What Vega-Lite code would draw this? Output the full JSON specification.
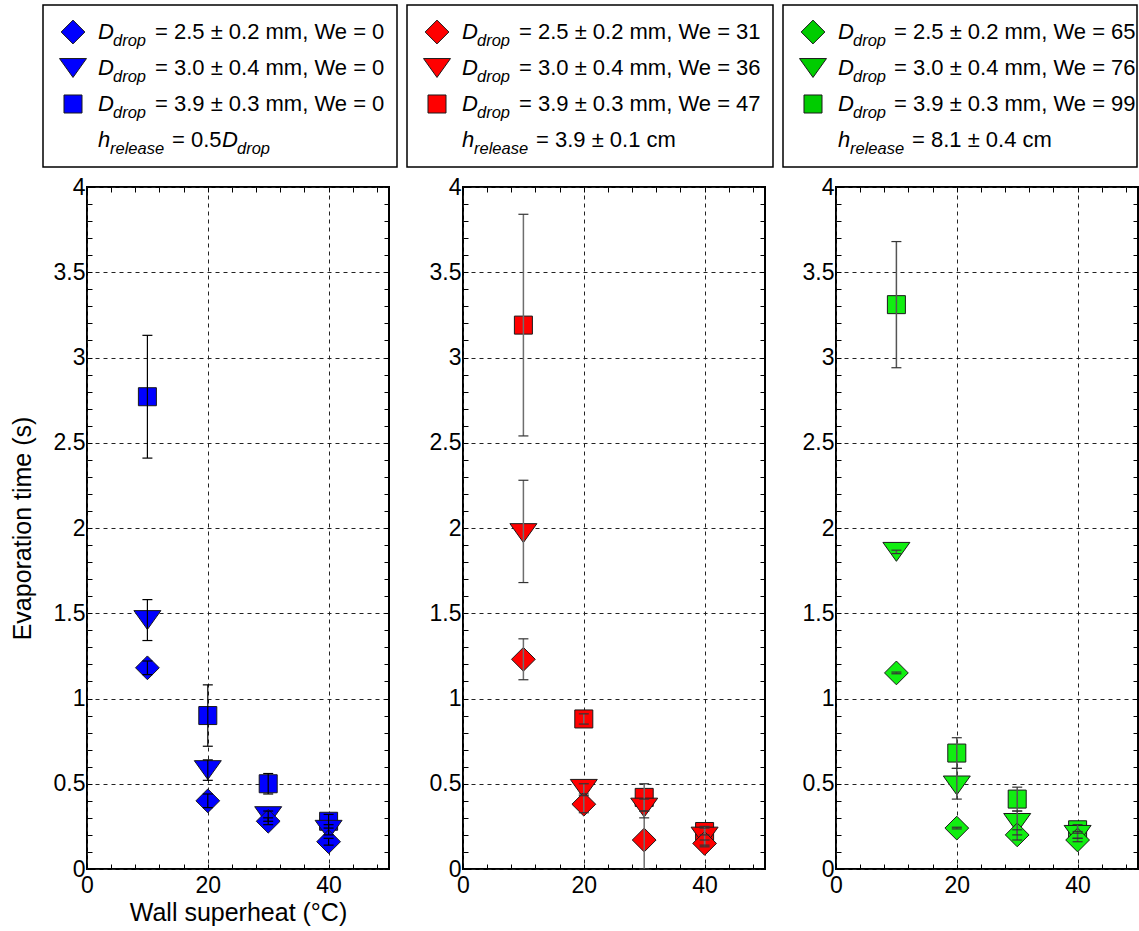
{
  "$schema": "https://vega.github.io/schema/vega-lite/v6.json",
  "padding": {"left": 9, "top": 4, "right": 0, "bottom": 0},
  "spacing": 7,
  "config": {
    "font": "Liberation Sans",
    "axis": {"labelFontSize": 23, "labelColor": "black", "titleFontSize": 25, "titleFontWeight": "normal", "titleColor": "black", "tickColor": "black", "tickSize": -5, "tickWidth": 1, "domain": false},
    "text": {"font": "Liberation Sans", "color": "black"}
  },
  "datasets": {
    "pts": [
      {"p": 1, "x": 10, "s": "square", "y": 2.77, "lo": 2.41, "hi": 3.13},
      {"p": 1, "x": 10, "s": "triangle", "y": 1.46, "lo": 1.34, "hi": 1.58},
      {"p": 1, "x": 10, "s": "diamond", "y": 1.18, "lo": 1.14, "hi": 1.22},
      {"p": 1, "x": 20, "s": "square", "y": 0.9, "lo": 0.72, "hi": 1.08},
      {"p": 1, "x": 20, "s": "triangle", "y": 0.58, "lo": 0.52, "hi": 0.64},
      {"p": 1, "x": 20, "s": "diamond", "y": 0.4, "lo": 0.36, "hi": 0.44},
      {"p": 1, "x": 30, "s": "square", "y": 0.5, "lo": 0.44, "hi": 0.56},
      {"p": 1, "x": 30, "s": "triangle", "y": 0.31, "lo": 0.28, "hi": 0.34},
      {"p": 1, "x": 30, "s": "diamond", "y": 0.28, "lo": 0.26, "hi": 0.3},
      {"p": 1, "x": 40, "s": "square", "y": 0.28, "lo": 0.24, "hi": 0.32},
      {"p": 1, "x": 40, "s": "triangle", "y": 0.23, "lo": 0.2, "hi": 0.26},
      {"p": 1, "x": 40, "s": "diamond", "y": 0.16, "lo": 0.14, "hi": 0.18},
      {"p": 2, "x": 10, "s": "square", "y": 3.19, "lo": 2.54, "hi": 3.84},
      {"p": 2, "x": 10, "s": "triangle", "y": 1.97, "lo": 1.68, "hi": 2.28},
      {"p": 2, "x": 10, "s": "diamond", "y": 1.23, "lo": 1.11, "hi": 1.35},
      {"p": 2, "x": 20, "s": "square", "y": 0.88, "lo": 0.85, "hi": 0.91},
      {"p": 2, "x": 20, "s": "triangle", "y": 0.47, "lo": 0.44, "hi": 0.5},
      {"p": 2, "x": 20, "s": "diamond", "y": 0.38, "lo": 0.33, "hi": 0.43},
      {"p": 2, "x": 30, "s": "square", "y": 0.42, "lo": 0.34, "hi": 0.5},
      {"p": 2, "x": 30, "s": "triangle", "y": 0.36, "lo": 0.3, "hi": 0.41},
      {"p": 2, "x": 30, "s": "diamond", "y": 0.17, "lo": 0.0, "hi": 0.34},
      {"p": 2, "x": 40, "s": "square", "y": 0.22, "lo": 0.2, "hi": 0.25},
      {"p": 2, "x": 40, "s": "triangle", "y": 0.19, "lo": 0.14, "hi": 0.24},
      {"p": 2, "x": 40, "s": "diamond", "y": 0.15, "lo": 0.13, "hi": 0.17},
      {"p": 3, "x": 10, "s": "square", "y": 3.31, "lo": 2.94, "hi": 3.68},
      {"p": 3, "x": 10, "s": "triangle", "y": 1.86, "lo": 1.85, "hi": 1.87},
      {"p": 3, "x": 10, "s": "diamond", "y": 1.15, "lo": 1.145, "hi": 1.155},
      {"p": 3, "x": 20, "s": "square", "y": 0.68, "lo": 0.59, "hi": 0.77},
      {"p": 3, "x": 20, "s": "triangle", "y": 0.49, "lo": 0.41, "hi": 0.59},
      {"p": 3, "x": 20, "s": "diamond", "y": 0.24, "lo": 0.235, "hi": 0.245},
      {"p": 3, "x": 30, "s": "square", "y": 0.41, "lo": 0.34, "hi": 0.48},
      {"p": 3, "x": 30, "s": "triangle", "y": 0.27, "lo": 0.2, "hi": 0.34},
      {"p": 3, "x": 30, "s": "diamond", "y": 0.2, "lo": 0.17, "hi": 0.23},
      {"p": 3, "x": 40, "s": "square", "y": 0.23, "lo": 0.21, "hi": 0.26},
      {"p": 3, "x": 40, "s": "triangle", "y": 0.2, "lo": 0.18, "hi": 0.22},
      {"p": 3, "x": 40, "s": "diamond", "y": 0.17, "lo": 0.16, "hi": 0.18}
    ],
    "leg": [
      {"p": 1, "row": 1, "s": "diamond", "main": "D", "sub": "drop", "rest": "= 2.5 ± 0.2 mm, We = 0"},
      {"p": 1, "row": 2, "s": "triangle", "main": "D", "sub": "drop", "rest": "= 3.0 ± 0.4 mm, We = 0"},
      {"p": 1, "row": 3, "s": "square", "main": "D", "sub": "drop", "rest": "= 3.9 ± 0.3 mm, We = 0"},
      {"p": 1, "row": 4, "main": "h", "sub": "release", "rest": "= 0.5", "main2": "D", "sub2": "drop"},
      {"p": 2, "row": 1, "s": "diamond", "main": "D", "sub": "drop", "rest": "= 2.5 ± 0.2 mm, We = 31"},
      {"p": 2, "row": 2, "s": "triangle", "main": "D", "sub": "drop", "rest": "= 3.0 ± 0.4 mm, We = 36"},
      {"p": 2, "row": 3, "s": "square", "main": "D", "sub": "drop", "rest": "= 3.9 ± 0.3 mm, We = 47"},
      {"p": 2, "row": 4, "main": "h", "sub": "release", "rest": "= 3.9 ± 0.1 cm"},
      {"p": 3, "row": 1, "s": "diamond", "main": "D", "sub": "drop", "rest": "= 2.5 ± 0.2 mm, We = 65"},
      {"p": 3, "row": 2, "s": "triangle", "main": "D", "sub": "drop", "rest": "= 3.0 ± 0.4 mm, We = 76"},
      {"p": 3, "row": 3, "s": "square", "main": "D", "sub": "drop", "rest": "= 3.9 ± 0.3 mm, We = 99"},
      {"p": 3, "row": 4, "main": "h", "sub": "release", "rest": "= 8.1 ± 0.4 cm"}
    ]
  },
  "vconcat": [
    {
      "spacing": 8,
      "hconcat": [
        {
          "width": 302, "height": 162,
          "view": {"stroke": null},
          "data": {"name": "leg"},
          "transform": [{"filter": "datum.p === 1"}],
          "encoding": {
            "x": {"datum": 11, "type": "quantitative", "scale": {"domain": [0, 302], "nice": false, "zero": false}, "axis": null},
            "y": {"field": "row", "type": "ordinal", "scale": {"type": "point", "padding": 0.75}, "axis": null}
          },
          "layer": [
            {"transform": [{"filter": "datum.row === 1"}], "mark": {"type": "rect", "filled": false, "stroke": "black", "strokeWidth": 1.5, "clip": false},
             "encoding": {"x": {"datum": -44, "type": "quantitative", "scale": {"domain": [0, 302], "nice": false, "zero": false}, "axis": null}, "x2": {"datum": 310}, "y": {"value": 0}, "y2": {"value": 162}}},
            {"transform": [{"filter": "datum.row < 4"}], "mark": {"type": "point", "filled": true, "fill": "#0000FF", "stroke": "#1a1a1a", "strokeWidth": 1, "opacity": 1, "size": 729},
             "encoding": {"x": {"datum": -14, "type": "quantitative", "scale": {"domain": [0, 302], "nice": false, "zero": false}, "axis": null},
                          "shape": {"field": "s", "type": "nominal", "scale": {"domain": ["diamond", "triangle", "square"], "range": ["M-0.88,0L0,-0.88L0.88,0L0,0.88Z", "M-1,-0.7L1,-0.7L0,0.7Z", "M-0.667,-0.667L0.667,-0.667L0.667,0.667L-0.667,0.667Z"]}, "legend": null}}},
            {"mark": {"type": "text", "align": "left", "baseline": "middle", "fontSize": 22, "fontStyle": "italic"}, "encoding": {"text": {"field": "main"}}},
            {"transform": [{"filter": "datum.row < 4"}], "mark": {"type": "text", "align": "left", "baseline": "middle", "fontSize": 16.5, "fontStyle": "italic", "dx": 15, "dy": 9}, "encoding": {"text": {"field": "sub"}}},
            {"transform": [{"filter": "datum.row === 4"}], "mark": {"type": "text", "align": "left", "baseline": "middle", "fontSize": 16.5, "fontStyle": "italic", "dx": 12, "dy": 9}, "encoding": {"text": {"field": "sub"}}},
            {"transform": [{"filter": "datum.row < 4"}], "mark": {"type": "text", "align": "left", "baseline": "middle", "fontSize": 22, "dx": 57}, "encoding": {"text": {"field": "rest"}}},
            {"transform": [{"filter": "datum.row === 4"}], "mark": {"type": "text", "align": "left", "baseline": "middle", "fontSize": 22, "dx": 74}, "encoding": {"text": {"field": "rest"}}},
            {"transform": [{"filter": "datum.main2"}], "mark": {"type": "text", "align": "left", "baseline": "middle", "fontSize": 22, "fontStyle": "italic", "dx": 124}, "encoding": {"text": {"field": "main2"}}},
            {"transform": [{"filter": "datum.main2"}], "mark": {"type": "text", "align": "left", "baseline": "middle", "fontSize": 16.5, "fontStyle": "italic", "dx": 139, "dy": 9}, "encoding": {"text": {"field": "sub2"}}}
          ]
        },
        {
          "width": 366, "height": 162,
          "view": {"stroke": "black", "strokeWidth": 1.5},
          "data": {"name": "leg"},
          "transform": [{"filter": "datum.p === 2"}],
          "encoding": {
            "x": {"datum": 55, "type": "quantitative", "scale": {"domain": [0, 366], "nice": false, "zero": false}, "axis": null},
            "y": {"field": "row", "type": "ordinal", "scale": {"type": "point", "padding": 0.75}, "axis": null}
          },
          "layer": [
            {"transform": [{"filter": "datum.row < 4"}], "mark": {"type": "point", "filled": true, "fill": "#FF0000", "stroke": "#1a1a1a", "strokeWidth": 1, "opacity": 1, "size": 729},
             "encoding": {"x": {"datum": 30, "type": "quantitative", "scale": {"domain": [0, 366], "nice": false, "zero": false}, "axis": null},
                          "shape": {"field": "s", "type": "nominal", "scale": {"domain": ["diamond", "triangle", "square"], "range": ["M-0.88,0L0,-0.88L0.88,0L0,0.88Z", "M-1,-0.7L1,-0.7L0,0.7Z", "M-0.667,-0.667L0.667,-0.667L0.667,0.667L-0.667,0.667Z"]}, "legend": null}}},
            {"mark": {"type": "text", "align": "left", "baseline": "middle", "fontSize": 22, "fontStyle": "italic"}, "encoding": {"text": {"field": "main"}}},
            {"transform": [{"filter": "datum.row < 4"}], "mark": {"type": "text", "align": "left", "baseline": "middle", "fontSize": 16.5, "fontStyle": "italic", "dx": 15, "dy": 9}, "encoding": {"text": {"field": "sub"}}},
            {"transform": [{"filter": "datum.row === 4"}], "mark": {"type": "text", "align": "left", "baseline": "middle", "fontSize": 16.5, "fontStyle": "italic", "dx": 12, "dy": 9}, "encoding": {"text": {"field": "sub"}}},
            {"transform": [{"filter": "datum.row < 4"}], "mark": {"type": "text", "align": "left", "baseline": "middle", "fontSize": 22, "dx": 57}, "encoding": {"text": {"field": "rest"}}},
            {"transform": [{"filter": "datum.row === 4"}], "mark": {"type": "text", "align": "left", "baseline": "middle", "fontSize": 22, "dx": 74}, "encoding": {"text": {"field": "rest"}}}
          ]
        },
        {
          "width": 354, "height": 162,
          "view": {"stroke": "black", "strokeWidth": 1.5},
          "data": {"name": "leg"},
          "transform": [{"filter": "datum.p === 3"}],
          "encoding": {
            "x": {"datum": 55, "type": "quantitative", "scale": {"domain": [0, 354], "nice": false, "zero": false}, "axis": null},
            "y": {"field": "row", "type": "ordinal", "scale": {"type": "point", "padding": 0.75}, "axis": null}
          },
          "layer": [
            {"transform": [{"filter": "datum.row < 4"}], "mark": {"type": "point", "filled": true, "fill": "#00CC00", "stroke": "#1a1a1a", "strokeWidth": 1, "opacity": 1, "size": 729},
             "encoding": {"x": {"datum": 30, "type": "quantitative", "scale": {"domain": [0, 354], "nice": false, "zero": false}, "axis": null},
                          "shape": {"field": "s", "type": "nominal", "scale": {"domain": ["diamond", "triangle", "square"], "range": ["M-0.88,0L0,-0.88L0.88,0L0,0.88Z", "M-1,-0.7L1,-0.7L0,0.7Z", "M-0.667,-0.667L0.667,-0.667L0.667,0.667L-0.667,0.667Z"]}, "legend": null}}},
            {"mark": {"type": "text", "align": "left", "baseline": "middle", "fontSize": 22, "fontStyle": "italic"}, "encoding": {"text": {"field": "main"}}},
            {"transform": [{"filter": "datum.row < 4"}], "mark": {"type": "text", "align": "left", "baseline": "middle", "fontSize": 16.5, "fontStyle": "italic", "dx": 15, "dy": 9}, "encoding": {"text": {"field": "sub"}}},
            {"transform": [{"filter": "datum.row === 4"}], "mark": {"type": "text", "align": "left", "baseline": "middle", "fontSize": 16.5, "fontStyle": "italic", "dx": 12, "dy": 9}, "encoding": {"text": {"field": "sub"}}},
            {"transform": [{"filter": "datum.row < 4"}], "mark": {"type": "text", "align": "left", "baseline": "middle", "fontSize": 22, "dx": 56}, "encoding": {"text": {"field": "rest"}}},
            {"transform": [{"filter": "datum.row === 4"}], "mark": {"type": "text", "align": "left", "baseline": "middle", "fontSize": 22, "dx": 74}, "encoding": {"text": {"field": "rest"}}}
          ]
        }
      ]
    },
    {
      "spacing": 16,
      "hconcat": [
        {
          "width": 302, "height": 682,
          "view": {"stroke": "black", "strokeWidth": 2},
          "data": {"name": "pts"},
          "transform": [{"filter": "datum.p === 1"}],
          "resolve": {"axis": {"x": "independent", "y": "independent"}},
          "layer": [
            {"mark": {"type": "point", "filled": true, "fill": "#0000FF", "stroke": "#1a1a1a", "strokeWidth": 1, "opacity": 1, "size": 729},
             "encoding": {
               "x": {"field": "x", "type": "quantitative", "scale": {"domain": [0, 50], "nice": false, "zero": false},
                     "axis": {"orient": "bottom", "values": [0, 4, 8, 12, 16, 20, 24, 28, 32, 36, 40, 44, 48], "labelExpr": "datum.value % 20 === 0 ? datum.label : ''", "labelOverlap": false, "labelFlush": false, "labelPadding": 10, "grid": true, "gridDash": [4, 4], "gridColor": "#222", "gridWidth": 1, "gridOpacity": {"condition": {"test": "datum.value % 20 === 0", "value": 1}, "value": 0}, "title": "Wall superheat (°C)", "titlePadding": 3}},
               "y": {"field": "y", "type": "quantitative", "scale": {"domain": [0, 4], "nice": false, "zero": false},
                     "axis": {"orient": "left", "values": [0,0.1,0.2,0.3,0.4,0.5,0.6,0.7,0.8,0.9,1,1.1,1.2,1.3,1.4,1.5,1.6,1.7,1.8,1.9,2,2.1,2.2,2.3,2.4,2.5,2.6,2.7,2.8,2.9,3,3.1,3.2,3.3,3.4,3.5,3.6,3.7,3.8,3.9,4], "labelExpr": "datum.value * 2 === round(datum.value * 2) ? '' + datum.value : ''", "labelOverlap": false, "labelFlush": false, "labelPadding": 7, "grid": true, "gridDash": [4, 4], "gridColor": "#222", "gridWidth": 1, "gridOpacity": {"condition": {"test": "datum.value * 2 === round(datum.value * 2)", "value": 1}, "value": 0}, "title": "Evaporation time (s)", "titlePadding": 8, "minExtent": 44}},
               "shape": {"field": "s", "type": "nominal", "scale": {"domain": ["diamond", "triangle", "square"], "range": ["M-0.88,0L0,-0.88L0.88,0L0,0.88Z", "M-1,-0.7L1,-0.7L0,0.7Z", "M-0.667,-0.667L0.667,-0.667L0.667,0.667L-0.667,0.667Z"]}, "legend": null}
             }},
            {"mark": {"type": "rule", "color": "black", "strokeWidth": 1.2},
             "encoding": {
               "x": {"field": "x", "type": "quantitative", "axis": {"orient": "top", "values": [0, 4, 8, 12, 16, 20, 24, 28, 32, 36, 40, 44, 48], "labels": false, "grid": false, "title": null}},
               "y": {"field": "lo", "type": "quantitative", "axis": {"orient": "right", "values": [0,0.1,0.2,0.3,0.4,0.5,0.6,0.7,0.8,0.9,1,1.1,1.2,1.3,1.4,1.5,1.6,1.7,1.8,1.9,2,2.1,2.2,2.3,2.4,2.5,2.6,2.7,2.8,2.9,3,3.1,3.2,3.3,3.4,3.5,3.6,3.7,3.8,3.9,4], "labels": false, "grid": false, "title": null}},
               "y2": {"field": "hi"}
             }},
            {"mark": {"type": "tick", "orient": "horizontal", "size": 10, "thickness": 1.2, "color": "black", "opacity": 1},
             "encoding": {"x": {"field": "x", "type": "quantitative", "axis": null}, "y": {"field": "lo", "type": "quantitative", "axis": null}}},
            {"mark": {"type": "tick", "orient": "horizontal", "size": 10, "thickness": 1.2, "color": "black", "opacity": 1},
             "encoding": {"x": {"field": "x", "type": "quantitative", "axis": null}, "y": {"field": "hi", "type": "quantitative", "axis": null}}}
          ]
        },
        {
          "width": 302, "height": 682,
          "view": {"stroke": "black", "strokeWidth": 2},
          "data": {"name": "pts"},
          "transform": [{"filter": "datum.p === 2"}],
          "resolve": {"axis": {"x": "independent", "y": "independent"}},
          "layer": [
            {"mark": {"type": "point", "filled": true, "fill": "#FF0000", "stroke": "#1a1a1a", "strokeWidth": 1, "opacity": 1, "size": 729},
             "encoding": {
               "x": {"field": "x", "type": "quantitative", "scale": {"domain": [0, 50], "nice": false, "zero": false},
                     "axis": {"orient": "bottom", "values": [0, 4, 8, 12, 16, 20, 24, 28, 32, 36, 40, 44, 48], "labelExpr": "datum.value % 20 === 0 ? datum.label : ''", "labelOverlap": false, "labelFlush": false, "labelPadding": 10, "grid": true, "gridDash": [4, 4], "gridColor": "#222", "gridWidth": 1, "gridOpacity": {"condition": {"test": "datum.value % 20 === 0", "value": 1}, "value": 0}, "title": null}},
               "y": {"field": "y", "type": "quantitative", "scale": {"domain": [0, 4], "nice": false, "zero": false},
                     "axis": {"orient": "left", "values": [0,0.1,0.2,0.3,0.4,0.5,0.6,0.7,0.8,0.9,1,1.1,1.2,1.3,1.4,1.5,1.6,1.7,1.8,1.9,2,2.1,2.2,2.3,2.4,2.5,2.6,2.7,2.8,2.9,3,3.1,3.2,3.3,3.4,3.5,3.6,3.7,3.8,3.9,4], "labelExpr": "datum.value * 2 === round(datum.value * 2) ? '' + datum.value : ''", "labelOverlap": false, "labelFlush": false, "labelPadding": 7, "grid": true, "gridDash": [4, 4], "gridColor": "#222", "gridWidth": 1, "gridOpacity": {"condition": {"test": "datum.value * 2 === round(datum.value * 2)", "value": 1}, "value": 0}, "title": null, "minExtent": 55}},
               "shape": {"field": "s", "type": "nominal", "scale": {"domain": ["diamond", "triangle", "square"], "range": ["M-0.88,0L0,-0.88L0.88,0L0,0.88Z", "M-1,-0.7L1,-0.7L0,0.7Z", "M-0.667,-0.667L0.667,-0.667L0.667,0.667L-0.667,0.667Z"]}, "legend": null}
             }},
            {"mark": {"type": "rule", "color": "#6e6e6e", "strokeWidth": 1.5},
             "encoding": {
               "x": {"field": "x", "type": "quantitative", "axis": {"orient": "top", "values": [0, 4, 8, 12, 16, 20, 24, 28, 32, 36, 40, 44, 48], "labels": false, "grid": false, "title": null}},
               "y": {"field": "lo", "type": "quantitative", "axis": {"orient": "right", "values": [0,0.1,0.2,0.3,0.4,0.5,0.6,0.7,0.8,0.9,1,1.1,1.2,1.3,1.4,1.5,1.6,1.7,1.8,1.9,2,2.1,2.2,2.3,2.4,2.5,2.6,2.7,2.8,2.9,3,3.1,3.2,3.3,3.4,3.5,3.6,3.7,3.8,3.9,4], "labels": false, "grid": false, "title": null}},
               "y2": {"field": "hi"}
             }},
            {"mark": {"type": "tick", "orient": "horizontal", "size": 10, "thickness": 1.2, "color": "#333", "opacity": 1},
             "encoding": {"x": {"field": "x", "type": "quantitative", "axis": null}, "y": {"field": "lo", "type": "quantitative", "axis": null}}},
            {"mark": {"type": "tick", "orient": "horizontal", "size": 10, "thickness": 1.2, "color": "#333", "opacity": 1},
             "encoding": {"x": {"field": "x", "type": "quantitative", "axis": null}, "y": {"field": "hi", "type": "quantitative", "axis": null}}}
          ]
        },
        {
          "width": 302, "height": 682,
          "view": {"stroke": "black", "strokeWidth": 2},
          "data": {"name": "pts"},
          "transform": [{"filter": "datum.p === 3"}],
          "resolve": {"axis": {"x": "independent", "y": "independent"}},
          "layer": [
            {"mark": {"type": "point", "filled": true, "fill": "#11EE11", "stroke": "#1a1a1a", "strokeWidth": 1, "opacity": 1, "size": 729},
             "encoding": {
               "x": {"field": "x", "type": "quantitative", "scale": {"domain": [0, 50], "nice": false, "zero": false},
                     "axis": {"orient": "bottom", "values": [0, 4, 8, 12, 16, 20, 24, 28, 32, 36, 40, 44, 48], "labelExpr": "datum.value % 20 === 0 ? datum.label : ''", "labelOverlap": false, "labelFlush": false, "labelPadding": 10, "grid": true, "gridDash": [4, 4], "gridColor": "#222", "gridWidth": 1, "gridOpacity": {"condition": {"test": "datum.value % 20 === 0", "value": 1}, "value": 0}, "title": null}},
               "y": {"field": "y", "type": "quantitative", "scale": {"domain": [0, 4], "nice": false, "zero": false},
                     "axis": {"orient": "left", "values": [0,0.1,0.2,0.3,0.4,0.5,0.6,0.7,0.8,0.9,1,1.1,1.2,1.3,1.4,1.5,1.6,1.7,1.8,1.9,2,2.1,2.2,2.3,2.4,2.5,2.6,2.7,2.8,2.9,3,3.1,3.2,3.3,3.4,3.5,3.6,3.7,3.8,3.9,4], "labelExpr": "datum.value * 2 === round(datum.value * 2) ? '' + datum.value : ''", "labelOverlap": false, "labelFlush": false, "labelPadding": 7, "grid": true, "gridDash": [4, 4], "gridColor": "#222", "gridWidth": 1, "gridOpacity": {"condition": {"test": "datum.value * 2 === round(datum.value * 2)", "value": 1}, "value": 0}, "title": null, "minExtent": 52}},
               "shape": {"field": "s", "type": "nominal", "scale": {"domain": ["diamond", "triangle", "square"], "range": ["M-0.88,0L0,-0.88L0.88,0L0,0.88Z", "M-1,-0.7L1,-0.7L0,0.7Z", "M-0.667,-0.667L0.667,-0.667L0.667,0.667L-0.667,0.667Z"]}, "legend": null}
             }},
            {"mark": {"type": "rule", "color": "#555", "strokeWidth": 1.5},
             "encoding": {
               "x": {"field": "x", "type": "quantitative", "axis": {"orient": "top", "values": [0, 4, 8, 12, 16, 20, 24, 28, 32, 36, 40, 44, 48], "labels": false, "grid": false, "title": null}},
               "y": {"field": "lo", "type": "quantitative", "axis": {"orient": "right", "values": [0,0.1,0.2,0.3,0.4,0.5,0.6,0.7,0.8,0.9,1,1.1,1.2,1.3,1.4,1.5,1.6,1.7,1.8,1.9,2,2.1,2.2,2.3,2.4,2.5,2.6,2.7,2.8,2.9,3,3.1,3.2,3.3,3.4,3.5,3.6,3.7,3.8,3.9,4], "labels": false, "grid": false, "title": null}},
               "y2": {"field": "hi"}
             }},
            {"mark": {"type": "tick", "orient": "horizontal", "size": 10, "thickness": 1.2, "color": "#333", "opacity": 1},
             "encoding": {"x": {"field": "x", "type": "quantitative", "axis": null}, "y": {"field": "lo", "type": "quantitative", "axis": null}}},
            {"mark": {"type": "tick", "orient": "horizontal", "size": 10, "thickness": 1.2, "color": "#333", "opacity": 1},
             "encoding": {"x": {"field": "x", "type": "quantitative", "axis": null}, "y": {"field": "hi", "type": "quantitative", "axis": null}}}
          ]
        }
      ]
    }
  ]
}
